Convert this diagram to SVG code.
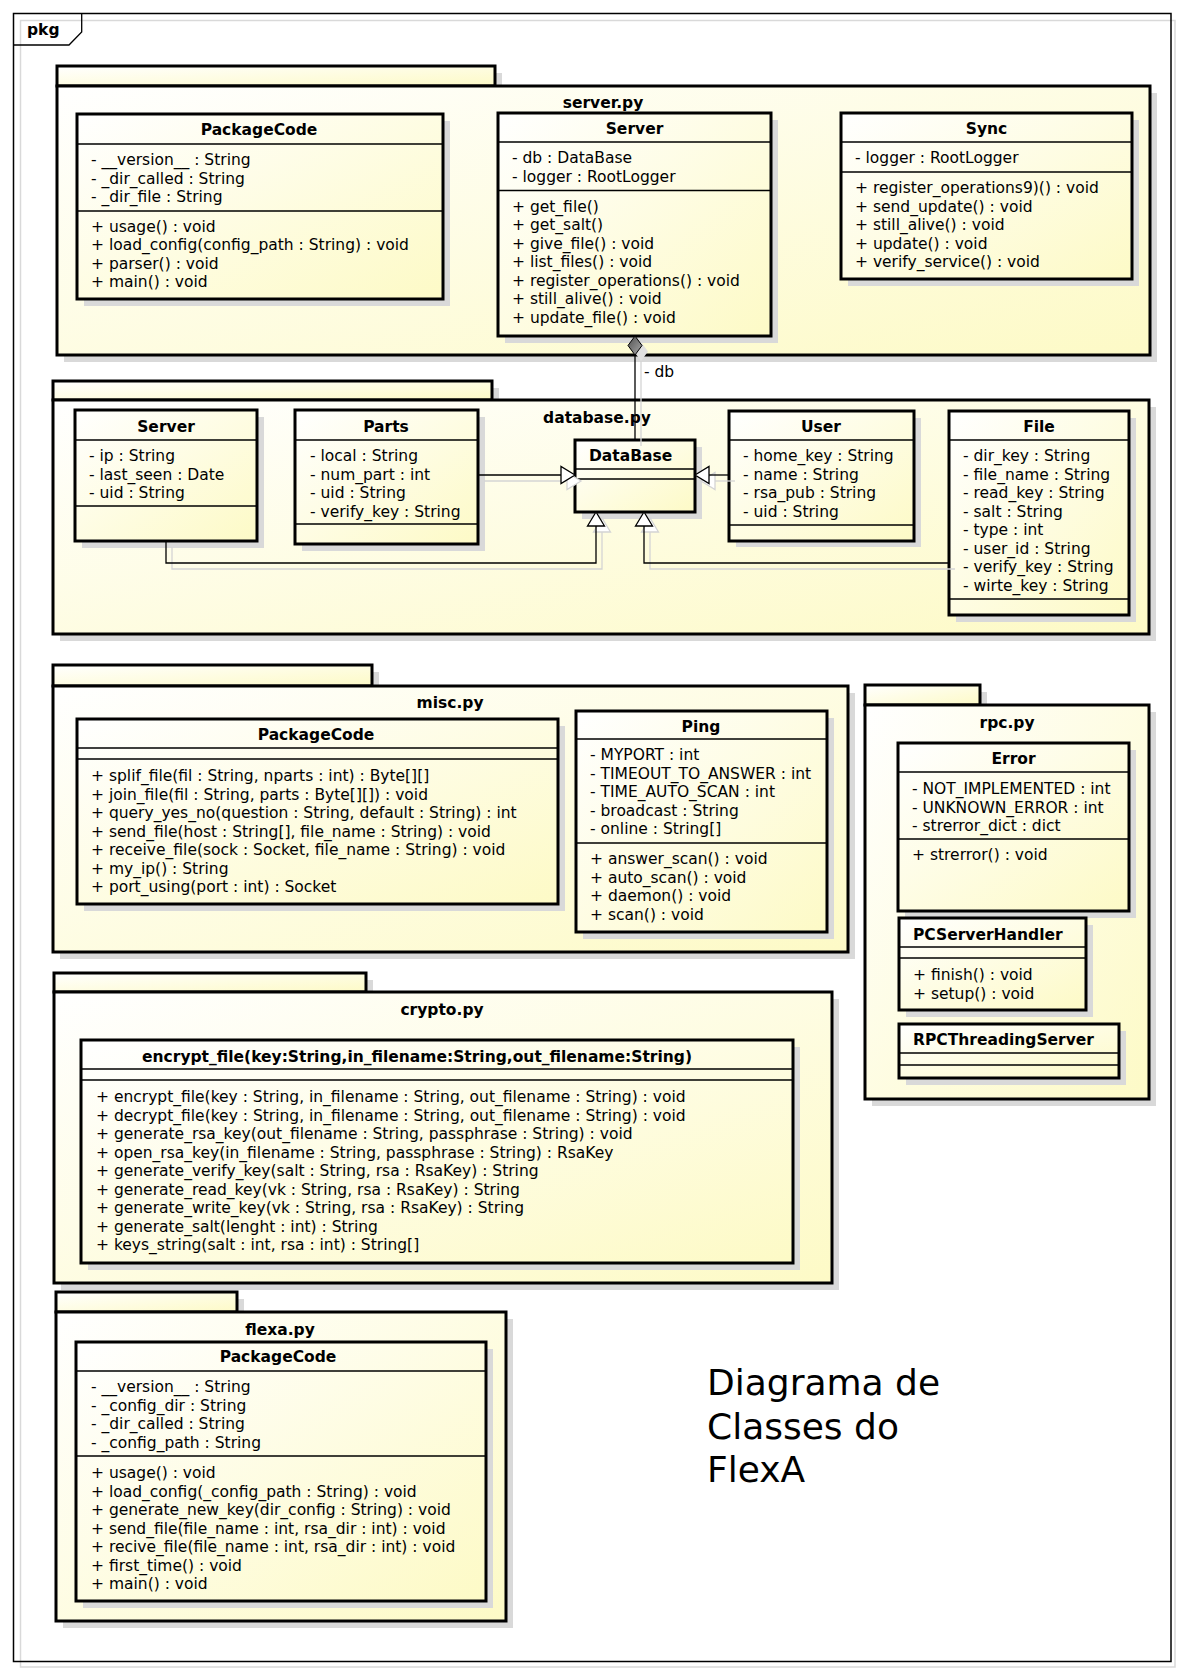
<svg xmlns="http://www.w3.org/2000/svg" width="1182" height="1674" viewBox="0 0 1182 1674">
<defs>
<linearGradient id="g" x1="0" y1="0" x2="1" y2="1">
<stop offset="0" stop-color="#ffffff"/>
<stop offset="1" stop-color="#fdfac6"/>
</linearGradient>
<linearGradient id="dg" x1="0" y1="0" x2="1" y2="1">
<stop offset="0" stop-color="#505050"/>
<stop offset="1" stop-color="#a8a8a8"/>
</linearGradient>
</defs>
<style>
.box{fill:url(#g);stroke:#000;stroke-width:3}
.sh{fill:#d9d9d9}
.sep{stroke:#000;stroke-width:1.3;fill:none}
.t{font-family:"DejaVu Sans","Liberation Sans",sans-serif;font-size:15.5px;fill:#000}
.b{font-weight:bold}
.c{text-anchor:middle}
.con{fill:none;stroke:#000;stroke-width:1.3}
.consh{fill:none;stroke:#d4d4d4;stroke-width:1.3}
.tri{fill:#fff;stroke:#000;stroke-width:1.3}
.trish{fill:#fff;stroke:#d4d4d4;stroke-width:1.3}
.big{font-family:"DejaVu Sans","Liberation Sans",sans-serif;font-size:36px;fill:#000}
</style>
<rect x="0" y="0" width="1182" height="1674" fill="#fff"/>

<g id="frame">
<rect x="20.5" y="20.5" width="1154.5" height="1646.5" fill="none" stroke="#d9d9d9" stroke-width="1.5"/>
<rect x="13.5" y="13.5" width="1157.5" height="1648" fill="none" stroke="#000" stroke-width="1.5"/>
<path d="M13.5,45 H69 L81.7,32 V13.5" fill="none" stroke="#000" stroke-width="1.3"/>
<text class="t b" x="27" y="35">pkg</text>
</g>

<!-- packages -->
<g id="pkg-server">
<rect class="sh" x="64" y="73" width="438" height="20"/>
<rect class="sh" x="64" y="93" width="1093" height="269"/>
<rect class="box" x="57" y="66" width="438" height="20"/>
<rect class="box" x="57" y="86" width="1093" height="269"/>
<text class="t b c" x="603" y="108">server.py</text>
</g>

<g id="pkg-database">
<rect class="sh" x="60" y="388" width="439" height="19"/>
<rect class="sh" x="60" y="407" width="1096" height="234"/>
<rect class="box" x="53" y="381" width="439" height="19"/>
<rect class="box" x="53" y="400" width="1096" height="234"/>
<text class="t b c" x="597" y="423">database.py</text>
</g>

<g id="pkg-misc">
<rect class="sh" x="60" y="672" width="319" height="21"/>
<rect class="sh" x="60" y="693" width="795" height="266"/>
<rect class="box" x="53" y="665" width="319" height="21"/>
<rect class="box" x="53" y="686" width="795" height="266"/>
<text class="t b c" x="450" y="708">misc.py</text>
</g>

<g id="pkg-rpc">
<rect class="sh" x="872" y="692" width="115" height="20"/>
<rect class="sh" x="872" y="712" width="284" height="394"/>
<rect class="box" x="865" y="685" width="115" height="20"/>
<rect class="box" x="865" y="705" width="284" height="394"/>
<text class="t b c" x="1007" y="728">rpc.py</text>
</g>

<g id="pkg-crypto">
<rect class="sh" x="61" y="980" width="312" height="19"/>
<rect class="sh" x="61" y="999" width="778" height="291"/>
<rect class="box" x="54" y="973" width="312" height="19"/>
<rect class="box" x="54" y="992" width="778" height="291"/>
<text class="t b c" x="442" y="1015">crypto.py</text>
</g>

<g id="pkg-flexa">
<rect class="sh" x="63" y="1299" width="181" height="20"/>
<rect class="sh" x="63" y="1319" width="450" height="309"/>
<rect class="box" x="56" y="1292" width="181" height="20"/>
<rect class="box" x="56" y="1312" width="450" height="309"/>
<text class="t b c" x="280" y="1335">flexa.py</text>
</g>

<!-- server.py classes -->
<g id="server-PackageCode">
<rect class="sh" x="84" y="121" width="366" height="185"/>
<rect class="box" x="77" y="114" width="366" height="185"/>
<text class="t b c" x="259" y="135">PackageCode</text>
<path class="sep" d="M77,144 H443 M77,211 H443"/>
<text class="t" x="91" y="165">- __version__ : String</text>
<text class="t" x="91" y="183.5">- _dir_called : String</text>
<text class="t" x="91" y="202">- _dir_file : String</text>
<text class="t" x="91" y="231.5">+ usage() : void</text>
<text class="t" x="91" y="250">+ load_config(config_path : String) : void</text>
<text class="t" x="91" y="268.5">+ parser() : void</text>
<text class="t" x="91" y="287">+ main() : void</text>
</g>

<g id="server-Server">
<rect class="sh" x="505" y="120" width="273" height="223"/>
<rect class="box" x="498" y="113" width="273" height="223"/>
<text class="t b c" x="634.5" y="134">Server</text>
<path class="sep" d="M498,142 H771 M498,190.5 H771"/>
<text class="t" x="512" y="163">- db : DataBase</text>
<text class="t" x="512" y="181.5">- logger : RootLogger</text>
<text class="t" x="512" y="211.5">+ get_file()</text>
<text class="t" x="512" y="230">+ get_salt()</text>
<text class="t" x="512" y="248.5">+ give_file() : void</text>
<text class="t" x="512" y="267">+ list_files() : void</text>
<text class="t" x="512" y="285.5">+ register_operations() : void</text>
<text class="t" x="512" y="304">+ still_alive() : void</text>
<text class="t" x="512" y="322.5">+ update_file() : void</text>
</g>

<g id="server-Sync">
<rect class="sh" x="848" y="120" width="291" height="166"/>
<rect class="box" x="841" y="113" width="291" height="166"/>
<text class="t b c" x="986.5" y="134">Sync</text>
<path class="sep" d="M841,142 H1132 M841,172 H1132"/>
<text class="t" x="855" y="163">- logger : RootLogger</text>
<text class="t" x="855" y="193">+ register_operations9)() : void</text>
<text class="t" x="855" y="211.5">+ send_update() : void</text>
<text class="t" x="855" y="230">+ still_alive() : void</text>
<text class="t" x="855" y="248.5">+ update() : void</text>
<text class="t" x="855" y="267">+ verify_service() : void</text>
</g>

<!-- database.py classes -->
<g id="db-Server">
<rect class="sh" x="82" y="417" width="182" height="131"/>
<rect class="box" x="75" y="410" width="182" height="131"/>
<text class="t b c" x="166" y="432">Server</text>
<path class="sep" d="M75,440 H257 M75,506 H257"/>
<text class="t" x="89" y="461">- ip : String</text>
<text class="t" x="89" y="479.5">- last_seen : Date</text>
<text class="t" x="89" y="498">- uid : String</text>
</g>

<g id="db-Parts">
<rect class="sh" x="302" y="417" width="183" height="134"/>
<rect class="box" x="295" y="410" width="183" height="134"/>
<text class="t b c" x="386" y="432">Parts</text>
<path class="sep" d="M295,440 H478 M295,524 H478"/>
<text class="t" x="310" y="461">- local : String</text>
<text class="t" x="310" y="479.5">- num_part : int</text>
<text class="t" x="310" y="498">- uid : String</text>
<text class="t" x="310" y="516.5">- verify_key : String</text>
</g>

<g id="db-DataBase">
<rect class="sh" x="582" y="447" width="120" height="72"/>
<rect class="box" x="575" y="440" width="120" height="72"/>
<text class="t b" x="589" y="461">DataBase</text>
<path class="sep" d="M575,469 H695 M575,479 H695"/>
</g>

<g id="db-User">
<rect class="sh" x="736" y="418" width="185" height="129"/>
<rect class="box" x="729" y="411" width="185" height="130"/>
<text class="t b c" x="821" y="432">User</text>
<path class="sep" d="M729,440 H914 M729,525 H914"/>
<text class="t" x="743" y="461">- home_key : String</text>
<text class="t" x="743" y="479.5">- name : String</text>
<text class="t" x="743" y="498">- rsa_pub : String</text>
<text class="t" x="743" y="516.5">- uid : String</text>
</g>

<g id="db-File">
<rect class="sh" x="956" y="418" width="180" height="204"/>
<rect class="box" x="949" y="411" width="180" height="204"/>
<text class="t b c" x="1039" y="432">File</text>
<path class="sep" d="M949,440 H1129 M949,599 H1129"/>
<text class="t" x="963" y="461">- dir_key : String</text>
<text class="t" x="963" y="479.5">- file_name : String</text>
<text class="t" x="963" y="498">- read_key : String</text>
<text class="t" x="963" y="516.5">- salt : String</text>
<text class="t" x="963" y="535">- type : int</text>
<text class="t" x="963" y="553.5">- user_id : String</text>
<text class="t" x="963" y="572">- verify_key : String</text>
<text class="t" x="963" y="590.5">- wirte_key : String</text>
</g>

<!-- misc.py classes -->
<g id="misc-PackageCode">
<rect class="sh" x="84" y="726" width="481" height="185"/>
<rect class="box" x="77" y="719" width="481" height="185"/>
<text class="t b c" x="316" y="740">PackageCode</text>
<path class="sep" d="M77,748 H558 M77,759 H558"/>
<text class="t" x="91" y="781">+ splif_file(fil : String, nparts : int) : Byte[][]</text>
<text class="t" x="91" y="799.5">+ join_file(fil : String, parts : Byte[][]) : void</text>
<text class="t" x="91" y="818">+ query_yes_no(question : String, default : String) : int</text>
<text class="t" x="91" y="836.5">+ send_file(host : String[], file_name : String) : void</text>
<text class="t" x="91" y="855">+ receive_file(sock : Socket, file_name : String) : void</text>
<text class="t" x="91" y="873.5">+ my_ip() : String</text>
<text class="t" x="91" y="892">+ port_using(port : int) : Socket</text>
</g>

<g id="misc-Ping">
<rect class="sh" x="583" y="718" width="251" height="221"/>
<rect class="box" x="576" y="711" width="251" height="221"/>
<text class="t b c" x="701" y="732">Ping</text>
<path class="sep" d="M576,739 H827 M576,843 H827"/>
<text class="t" x="590" y="760">- MYPORT : int</text>
<text class="t" x="590" y="778.5">- TIMEOUT_TO_ANSWER : int</text>
<text class="t" x="590" y="797">- TIME_AUTO_SCAN : int</text>
<text class="t" x="590" y="815.5">- broadcast : String</text>
<text class="t" x="590" y="834">- online : String[]</text>
<text class="t" x="590" y="864">+ answer_scan() : void</text>
<text class="t" x="590" y="882.5">+ auto_scan() : void</text>
<text class="t" x="590" y="901">+ daemon() : void</text>
<text class="t" x="590" y="919.5">+ scan() : void</text>
</g>

<!-- rpc.py classes -->
<g id="rpc-Error">
<rect class="sh" x="905" y="750" width="231" height="168"/>
<rect class="box" x="898" y="743" width="231" height="168"/>
<text class="t b c" x="1013.5" y="764">Error</text>
<path class="sep" d="M898,772 H1129 M898,839 H1129"/>
<text class="t" x="912" y="794">- NOT_IMPLEMENTED : int</text>
<text class="t" x="912" y="812.5">- UNKNOWN_ERROR : int</text>
<text class="t" x="912" y="831">- strerror_dict : dict</text>
<text class="t" x="912" y="860">+ strerror() : void</text>
</g>

<g id="rpc-PCServerHandler">
<rect class="sh" x="906" y="925" width="187" height="92"/>
<rect class="box" x="899" y="918" width="187" height="92"/>
<text class="t b" x="913" y="940">PCServerHandler</text>
<path class="sep" d="M899,947 H1086 M899,958 H1086"/>
<text class="t" x="913" y="980">+ finish() : void</text>
<text class="t" x="913" y="998.5">+ setup() : void</text>
</g>

<g id="rpc-RPCThreadingServer">
<rect class="sh" x="906" y="1031" width="220" height="54"/>
<rect class="box" x="899" y="1024" width="220" height="54"/>
<text class="t b" x="913" y="1045">RPCThreadingServer</text>
<path class="sep" d="M899,1053 H1119 M899,1065 H1119"/>
</g>

<!-- crypto.py class -->
<g id="crypto-encrypt_file">
<rect class="sh" x="88" y="1047" width="712" height="223"/>
<rect class="box" x="81" y="1040" width="712" height="223"/>
<text class="t b" x="142" y="1062">encrypt_file(key:String,in_filename:String,out_filename:String)</text>
<path class="sep" d="M81,1069 H793 M81,1080 H793"/>
<text class="t" x="96" y="1102">+ encrypt_file(key : String, in_filename : String, out_filename : String) : void</text>
<text class="t" x="96" y="1120.5">+ decrypt_file(key : String, in_filename : String, out_filename : String) : void</text>
<text class="t" x="96" y="1139">+ generate_rsa_key(out_filename : String, passphrase : String) : void</text>
<text class="t" x="96" y="1157.5">+ open_rsa_key(in_filename : String, passphrase : String) : RsaKey</text>
<text class="t" x="96" y="1176">+ generate_verify_key(salt : String, rsa : RsaKey) : String</text>
<text class="t" x="96" y="1194.5">+ generate_read_key(vk : String, rsa : RsaKey) : String</text>
<text class="t" x="96" y="1213">+ generate_write_key(vk : String, rsa : RsaKey) : String</text>
<text class="t" x="96" y="1231.5">+ generate_salt(lenght : int) : String</text>
<text class="t" x="96" y="1250">+ keys_string(salt : int, rsa : int) : String[]</text>
</g>

<!-- flexa.py class -->
<g id="flexa-PackageCode">
<rect class="sh" x="83" y="1349" width="410" height="259"/>
<rect class="box" x="76" y="1342" width="410" height="259"/>
<text class="t b c" x="278" y="1362">PackageCode</text>
<path class="sep" d="M76,1371 H486 M76,1456 H486"/>
<text class="t" x="91" y="1392">- __version__ : String</text>
<text class="t" x="91" y="1410.5">- _config_dir : String</text>
<text class="t" x="91" y="1429">- _dir_called : String</text>
<text class="t" x="91" y="1447.5">- _config_path : String</text>
<text class="t" x="91" y="1478">+ usage() : void</text>
<text class="t" x="91" y="1496.5">+ load_config(_config_path : String) : void</text>
<text class="t" x="91" y="1515">+ generate_new_key(dir_config : String) : void</text>
<text class="t" x="91" y="1533.5">+ send_file(file_name : int, rsa_dir : int) : void</text>
<text class="t" x="91" y="1552">+ recive_file(file_name : int, rsa_dir : int) : void</text>
<text class="t" x="91" y="1570.5">+ first_time() : void</text>
<text class="t" x="91" y="1589">+ main() : void</text>
</g>

<!-- connectors -->
<g id="connectors">
<g id="connector-shadows">
<path class="consh" d="M641,361 V446"/>
<path class="consh" d="M484,481 H567"/>
<path class="consh" d="M735,481 H715"/>
<path class="consh" d="M172,547 V569 H602 V532"/>
<path class="consh" d="M955,569 H650 V532"/>
<path class="trish" d="M581,481 L567,472.5 L567,489.5 Z"/>
<path class="trish" d="M701,481 L715,472.5 L715,489.5 Z"/>
<path class="trish" d="M602,518 L593.5,532 L610.5,532 Z"/>
<path class="trish" d="M650,518 L641.5,532 L658.5,532 Z"/>
<path d="M641,342 L648,351.5 L641,361 L634,351.5 Z" fill="#e0e0e0" stroke="none"/>
</g>
<g id="conn-db-composition">
<path class="con" d="M635,355 V440"/>
<path d="M635,336 L642,345.5 L635,355 L628,345.5 Z" fill="url(#dg)" stroke="#000" stroke-width="1"/>
<text class="t" x="644" y="377">- db</text>
</g>
<g id="conn-parts-database">
<path class="con" d="M478,475 H561"/>
<path class="tri" d="M575,475 L561,466.5 L561,483.5 Z"/>
</g>
<g id="conn-user-database">
<path class="con" d="M729,475 H709"/>
<path class="tri" d="M695,475 L709,466.5 L709,483.5 Z"/>
</g>
<g id="conn-server-database">
<path class="con" d="M166,541 V563 H596 V526"/>
<path class="tri" d="M596,512 L587.5,526 L604.5,526 Z"/>
</g>
<g id="conn-file-database">
<path class="con" d="M949,563 H644 V526"/>
<path class="tri" d="M644,512 L635.5,526 L652.5,526 Z"/>
</g>
</g>

<g id="title">
<text class="big" x="707" y="1395">Diagrama de</text>
<text class="big" x="707" y="1438.5">Classes do</text>
<text class="big" x="707" y="1482">FlexA</text>
</g>
</svg>
